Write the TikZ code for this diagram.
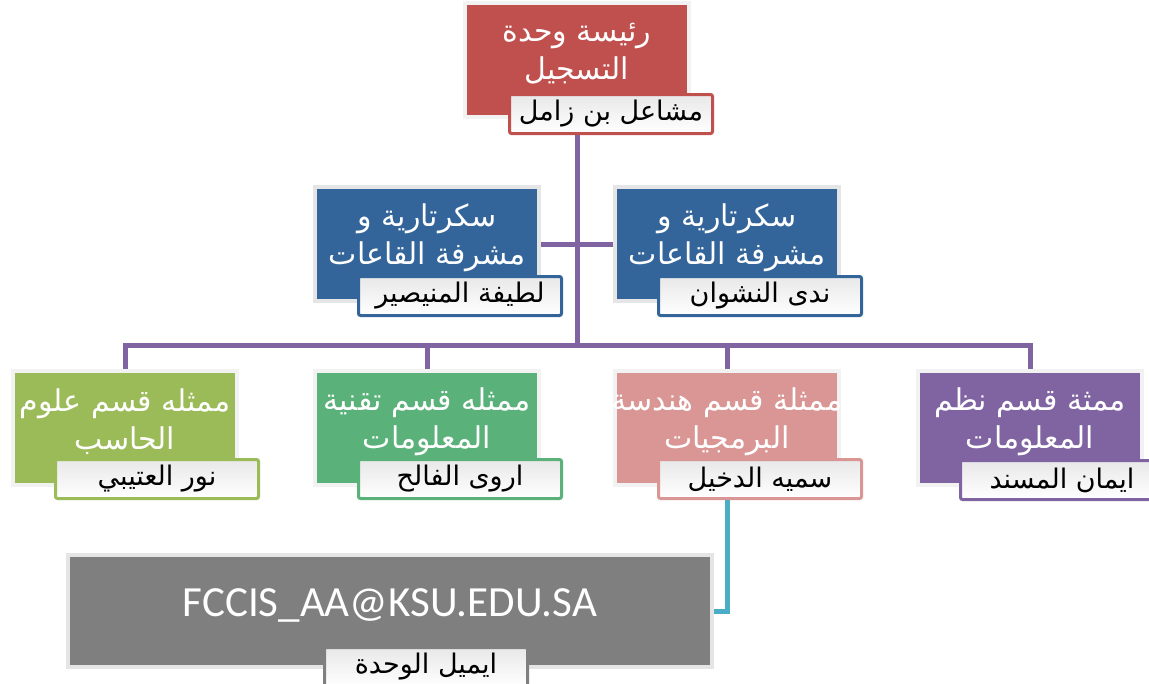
\documentclass[tikz,border=0pt]{standalone}
\usepackage{fontspec}
\usepackage{tikz}
\usepackage{xcolor}
\TeXXeTstate=1
\newfontfamily\arabicfont[Script=Arabic]{DejaVu Sans}
\newfontfamily\mailfont{Carlito}
\definecolor{headred}{HTML}{C0504D}
\definecolor{secblue}{HTML}{33659A}
\definecolor{csgreen}{HTML}{9BBB59}
\definecolor{itgreen}{HTML}{5AB27A}
\definecolor{swpink}{HTML}{D99694}
\definecolor{ispurple}{HTML}{8064A2}
\definecolor{mailgray}{HTML}{7F7F7F}
\definecolor{mailcyan}{HTML}{4BACC6}

\begin{document}
\begin{tikzpicture}[x=1pt, y=-1pt,
    box/.style={rectangle, draw=black!5, line width=4pt, minimum width=224pt, minimum height=114pt},
    head/.style={text=white, align=center, inner sep=0pt, font=\arabicfont\fontsize{30}{38}\selectfont},
    namebox/.style={rectangle, rounded corners=2pt, line width=3pt, inner sep=1pt, minimum width=203pt, minimum height=39pt, top color=black!9, bottom color=white, font=\arabicfont\fontsize{27}{30}\selectfont},
    link/.style={draw=ispurple, line width=5pt},
    maillink/.style={draw=mailcyan, line width=5pt}
]
\useasboundingbox (0,0) rectangle (1149,683);

% boxes
\node[box, fill=headred]  (r0) at (577,60)   {};
\node[box, fill=secblue, draw=black!10]  (s1) at (427,244)  {};
\node[box, fill=secblue, draw=black!10]  (s2) at (727,244)  {};
\node[box, fill=csgreen]  (b1) at (125,428)  {};
\node[box, fill=itgreen]  (b2) at (427,428)  {};
\node[box, fill=swpink]   (b3) at (727,428)  {};
\node[box, fill=ispurple] (b4) at (1030,428) {};
\node[box, fill=mailgray, draw=black!10, minimum width=644pt, minimum height=112pt] (m0) at (390,611) {};

% connectors
\coordinate (hub) at (577,345);
\draw[link] (r0) -- (hub);
\draw[link] (s1) -- (s2);
\draw[link] (hub) -| (b1);
\draw[link] (hub) -| (b2);
\draw[link] (hub) -| (b3);
\draw[link] (hub) -| (b4);
\draw[maillink] (b3) |- (m0);

% titles
\node[head] (r0t) at ([yshift=6pt]r0.center) {\beginR رئيسة وحدة\endR\\\beginR التسجيل\endR};
\node[head] (s1t) at ([yshift=6pt]s1.center) {\beginR سكرتارية و\endR\\\beginR مشرفة القاعات\endR};
\node[head] (s2t) at ([yshift=6pt]s2.center) {\beginR سكرتارية و\endR\\\beginR مشرفة القاعات\endR};
\node[head] (b1t) at ([yshift=6pt]b1.center) {\beginR ممثله قسم علوم\endR\\\beginR الحاسب\endR};
\node[head] (b2t) at ([yshift=6pt]b2.center) {\beginR ممثله قسم تقنية\endR\\\beginR المعلومات\endR};
\node[head] (b3t) at ([yshift=6pt]b3.center) {\beginR ممثلة قسم هندسة\endR\\\beginR البرمجيات\endR};
\node[head] (b4t) at ([yshift=6pt]b4.center) {\beginR ممثة قسم نظم\endR\\\beginR المعلومات\endR};
\node[text=white, font=\mailfont\fontsize{43}{46}\selectfont] (m0t) at ([yshift=6pt]m0.center) {FCCIS\_AA@KSU.EDU.SA};

% names
\node[namebox, draw=headred]  (r0n) at (611,114)  {\beginR مشاعل بن زامل\endR};
\node[namebox, draw=secblue]  (s1n) at (460,296)  {\beginR لطيفة المنيصير\endR};
\node[namebox, draw=secblue]  (s2n) at (760,296)  {\beginR ندى النشوان\endR};
\node[namebox, draw=csgreen]  (b1n) at (157,479)  {\beginR نور العتيبي\endR};
\node[namebox, draw=itgreen]  (b2n) at (460,479)  {\beginR اروى الفالح\endR};
\node[namebox, draw=swpink]   (b3n) at (760,479)  {\beginR سميه الدخيل\endR};
\node[namebox, draw=ispurple] (b4n) at (1062,480) {\beginR ايمان المسند\endR};
\node[namebox, draw=mailgray] (m0n) at (426,667)  {\beginR ايميل الوحدة\endR};
\end{tikzpicture}
\end{document}
